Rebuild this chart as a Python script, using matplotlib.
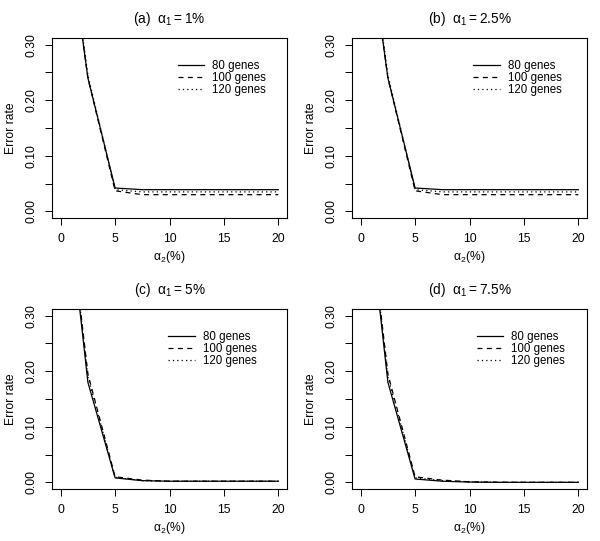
import matplotlib
matplotlib.use("Agg")
import matplotlib.pyplot as plt

plt.rcParams["font.family"] = ["Liberation Sans", "DejaVu Sans"]
plt.rcParams["mathtext.fontset"] = "custom"
plt.rcParams["mathtext.rm"] = "Liberation Sans"
plt.rcParams["mathtext.default"] = "regular"

# alpha_2 (%) grid
alpha2 = [0, 2.5, 5, 7.5, 10, 12.5, 15, 17.5, 20]

# (a) alpha_1 = 1%
a_80 = [0.60, 0.240, 0.042, 0.039, 0.039, 0.039, 0.039, 0.039, 0.039]
a_100 = [0.60, 0.240, 0.037, 0.030, 0.030, 0.030, 0.030, 0.030, 0.030]
a_120 = [0.61, 0.245, 0.039, 0.035, 0.035, 0.035, 0.035, 0.035, 0.035]

# (b) alpha_1 = 2.5%
b_80 = [0.60, 0.240, 0.042, 0.039, 0.039, 0.039, 0.039, 0.039, 0.039]
b_100 = [0.60, 0.240, 0.037, 0.030, 0.030, 0.030, 0.030, 0.030, 0.030]
b_120 = [0.61, 0.245, 0.039, 0.035, 0.035, 0.035, 0.035, 0.035, 0.035]

# (c) alpha_1 = 5%
c_80 = [0.62, 0.180, 0.008, 0.003, 0.002, 0.002, 0.002, 0.002, 0.002]
c_100 = [0.62, 0.195, 0.010, 0.004, 0.002, 0.002, 0.002, 0.002, 0.002]
c_120 = [0.62, 0.190, 0.009, 0.003, 0.002, 0.002, 0.002, 0.002, 0.002]

# (d) alpha_1 = 7.5%
d_80 = [0.62, 0.180, 0.006, 0.002, 0.0005, 0.0, 0.0, 0.0, 0.0]
d_100 = [0.62, 0.195, 0.010, 0.004, 0.001, 0.0003, 0.0, 0.0, 0.0]
d_120 = [0.62, 0.190, 0.008, 0.003, 0.001, 0.0, 0.0, 0.0, 0.0]

titles = [r"(a)  $\alpha_1 = 1\%$", r"(b)  $\alpha_1 = 2.5\%$",
          r"(c)  $\alpha_1 = 5\%$", r"(d)  $\alpha_1 = 7.5\%$"]
labels = ["80 genes", "100 genes", "120 genes"]
panels = [(a_80, a_100, a_120), (b_80, b_100, b_120),
          (c_80, c_100, c_120), (d_80, d_100, d_120)]

W, H = 600, 541
# axes boxes in pixels: left, top, right, bottom
boxes = [(52, 38, 287, 218), (352, 38, 587, 218),
         (52, 309, 287, 489), (352, 309, 587, 489)]
legend_x = [0.535, 0.515, 0.495, 0.53]

styles = [dict(ls="-"), dict(ls=(0, (4, 3.5))), dict(ls=(0, (1, 2.5)))]

fig = plt.figure(figsize=(W / 100, H / 100), dpi=100)
for i, (series, box) in enumerate(zip(panels, boxes)):
    l, t, r, b = box
    ax = fig.add_axes([l / W, 1 - b / H, (r - l) / W, (b - t) / H])
    for y, lab, st in zip(series, labels, styles):
        ax.plot(alpha2, y, color="black", lw=0.9, label=lab, **st)
    ax.set_xlim(-0.8, 20.8)
    ax.set_ylim(-0.012, 0.312)
    ax.set_xticks([0, 5, 10, 15, 20])
    ax.set_yticks([0, 0.05, 0.10, 0.15, 0.20, 0.25, 0.30])
    ax.set_yticklabels(["0.00", "", "0.10", "", "0.20", "", "0.30"])
    ax.tick_params(length=5, width=0.7, labelsize=8.7, pad=5.5)
    plt.setp(ax.get_yticklabels(), rotation=90, va="center")
    for sp in ax.spines.values():
        sp.set_linewidth(0.8)
    ax.text(0.5, 1 + 19 / 180, titles[i], transform=ax.transAxes,
            ha="center", va="center", fontsize=9.8)
    ax.set_ylabel("Error rate", fontsize=8.7)
    ax.yaxis.set_label_coords(-0.15, 0.5)
    ax.set_xlabel(r"$\alpha_2$(%)", fontsize=8.7)
    ax.xaxis.set_label_coords(0.5, -0.17)
    ax.legend(loc="upper left", bbox_to_anchor=(legend_x[i], 0.88),
              frameon=False, fontsize=8.3, handlelength=2.3,
              handletextpad=0.7, labelspacing=0.0, borderpad=0,
              borderaxespad=0)

fig.savefig("out.png", dpi=100)
